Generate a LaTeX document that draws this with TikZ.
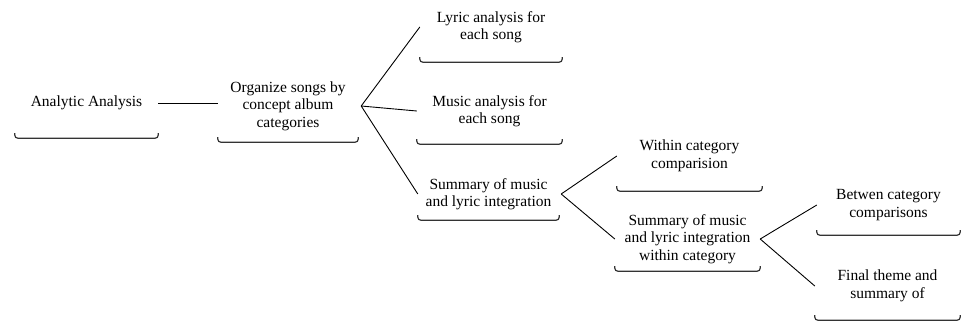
\documentclass[tikz,border=0pt]{standalone}
\usepackage{fontspec}
\setmainfont{Liberation Serif}
\usetikzlibrary{positioning}

\begin{document}
\begin{tikzpicture}[x=1pt,y=-1pt,
    box/.style={rectangle, align=center, inner sep=0pt, font=\fontsize{15.5}{17.5}\selectfont},
    bracket/.style={draw=black!80, line width=1.2pt, rounded corners=3pt},
    link/.style={line width=0.9pt}]
\useasboundingbox (0,0) rectangle (964,322);
\node[box, minimum width=143pt, minimum height=70pt] (ana) at (86.5,103) {Analytic Analysis};
\node[box, minimum width=140pt, minimum height=72pt] (org) at (288,106) {Organize songs by\\concept album\\categories};
\node[box, minimum width=142pt, minimum height=70pt] (lyr) at (491,27) {Lyric analysis for\\each song};
\node[box, minimum width=145pt, minimum height=66pt] (mus) at (489.5,111) {Music analysis for\\each song};
\node[box, minimum width=141pt, minimum height=52pt] (sumall) at (488.5,194) {Summary of music\\and lyric integration};
\node[box, minimum width=145pt, minimum height=70pt] (within) at (689.5,156) {Within category\\comparision};
\node[box, minimum width=145pt, minimum height=64pt] (sumcat) at (687.5,239) {Summary of music\\and lyric integration\\within category};
\node[box, minimum width=143pt, minimum height=60pt] (between) at (888.5,205) {Betwen category\\comparisons};
\node[box, minimum width=145pt, minimum height=68pt] (final) at (887.5,286) {Final theme and\\summary of};

\foreach \n in {ana,org,lyr,mus,sumall,within,sumcat,between,final}
  \draw[bracket] ([yshift=5pt]\n.south west) -- (\n.south west) -- (\n.south east) -- ([yshift=5pt]\n.south east);

\draw[link] (ana.east) -- (ana.east -| org.west);
\draw[link] ([xshift=3pt]org.east) edge (lyr.west) edge (mus.west) edge (sumall.west);
\draw[link] ([xshift=2pt]sumall.east) edge (within.west) edge (sumcat.west);
\draw[link] (sumcat.east) edge (between.west) edge (final.west);
\end{tikzpicture}
\end{document}
